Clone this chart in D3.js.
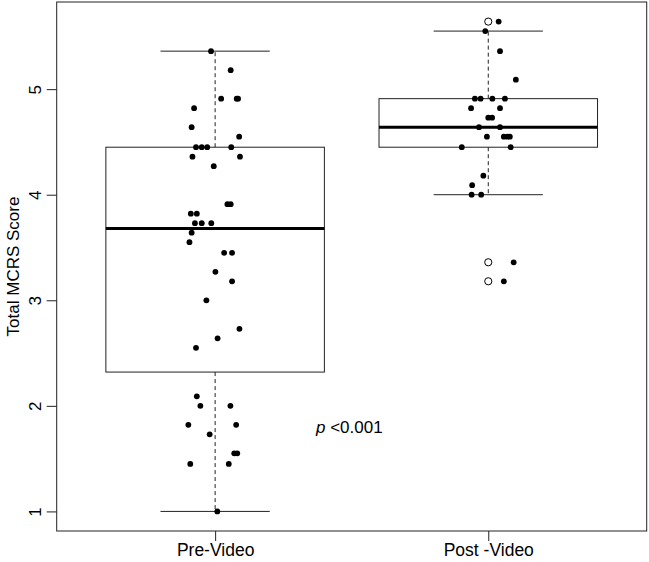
<!DOCTYPE html>
<html>
<head>
<meta charset="utf-8">
<script src="https://cdn.jsdelivr.net/npm/d3@7"></script>
<style>
    body { margin: 0; background: #fff; }
    svg text { font-family: "Liberation Sans", Arial, sans-serif; fill: #000; }
</style>
</head>
<body>
<script>
"use strict";

// groups on the x axis
var groups = ["Pre-Video", "Post -Video"];

// scores per subject, with the horizontal jitter (in group units)
var preScores = [5.36, 5.18, 4.91, 4.91, 4.91, 4.82, 4.64, 4.55, 4.45, 4.45, 4.45, 4.45,
    4.36, 4.36, 4.27, 3.91, 3.91, 3.82, 3.82, 3.73, 3.73, 3.73, 3.64, 3.55, 3.45, 3.45,
    3.27, 3.18, 3.00, 2.73, 2.64, 2.55, 2.09, 2.00, 2.00, 1.82, 1.82, 1.73, 1.55, 1.55,
    1.45, 1.45, 1.00];
var preJitter = [-0.015, 0.057, 0.022, 0.079, 0.084, -0.077, -0.086, 0.088, -0.070, -0.049, -0.029, 0.059,
    -0.083, 0.091, -0.005, 0.045, 0.057, -0.089, -0.067, -0.074, -0.049, -0.014, -0.086, -0.094, 0.033, 0.062,
    0.001, 0.062, -0.032, 0.089, 0.009, -0.070, -0.067, -0.054, 0.056, -0.098, 0.077, -0.020, 0.070, 0.081,
    -0.091, 0.050, 0.008];

var postScores = [5.64, 5.55, 5.36, 5.09, 4.91, 4.91, 4.91, 4.91, 4.82, 4.82, 4.73, 4.73,
    4.64, 4.64, 4.55, 4.55, 4.55, 4.55, 4.45, 4.45, 4.18, 4.09, 4.00, 4.00, 3.36, 3.18];
var postJitter = [0.038, -0.011, 0.043, 0.101, -0.049, -0.028, 0.015, 0.061, -0.063, 0.043, 0.000, 0.014,
    -0.034, 0.043, -0.005, 0.057, 0.070, 0.079, -0.097, 0.082, -0.018, -0.059, -0.061, -0.026, 0.093, 0.057];

// box statistics as drawn
var whiskerLow = [1.00, 4.00];
var lowerHinge = [2.32, 4.45];
var medians = [3.68, 4.64];
var upperHinge = [4.45, 4.91];
var whiskerHigh = [5.36, 5.55];
var outliers = [[], [5.64, 3.36, 3.18]];

var yTicks = [1, 2, 3, 4, 5];

function init() {
    var w = 649;
    var h = 562;
    var plot = {left: 56.7, right: 646.7, top: 2, bottom: 531};

    var allScores = preScores.concat(postScores);
    var ext = d3.extent(allScores);
    var pad = (ext[1] - ext[0]) * 0.04;

    var xScale = d3.scaleLinear()
        .domain([0.42, 2.58])
        .range([plot.left, plot.right]);

    var yScale = d3.scaleLinear()
        .domain([ext[0] - pad, ext[1] + pad])
        .range([plot.bottom, plot.top]);

    var svg = d3.select("body")
        .append("svg")
        .attr("width", w)
        .attr("height", h);

    var boxHalf = 0.4;
    var stapleHalf = 0.2;

    var boxes = groups.map(function (g, i) {
        return {
            pos: i + 1,
            lo: whiskerLow[i],
            q1: lowerHinge[i],
            med: medians[i],
            q3: upperHinge[i],
            hi: whiskerHigh[i],
            out: outliers[i]
        };
    });

    var bx = svg.selectAll("g.box")
        .data(boxes)
        .enter()
        .append("g")
        .attr("class", "box");

    // dashed whiskers
    bx.append("line")
        .attr("x1", function (d) { return xScale(d.pos); })
        .attr("x2", function (d) { return xScale(d.pos); })
        .attr("y1", function (d) { return yScale(d.q3); })
        .attr("y2", function (d) { return yScale(d.hi); })
        .attr("stroke", "#222")
        .attr("stroke-dasharray", "4,3");
    bx.append("line")
        .attr("x1", function (d) { return xScale(d.pos); })
        .attr("x2", function (d) { return xScale(d.pos); })
        .attr("y1", function (d) { return yScale(d.q1); })
        .attr("y2", function (d) { return yScale(d.lo); })
        .attr("stroke", "#222")
        .attr("stroke-dasharray", "4,3");

    // staples
    ["lo", "hi"].forEach(function (k) {
        bx.append("line")
            .attr("x1", function (d) { return xScale(d.pos - stapleHalf); })
            .attr("x2", function (d) { return xScale(d.pos + stapleHalf); })
            .attr("y1", function (d) { return yScale(d[k]); })
            .attr("y2", function (d) { return yScale(d[k]); })
            .attr("stroke", "#222");
    });

    // the box
    bx.append("rect")
        .attr("x", function (d) { return xScale(d.pos - boxHalf); })
        .attr("y", function (d) { return yScale(d.q3); })
        .attr("width", function (d) { return xScale(d.pos + boxHalf) - xScale(d.pos - boxHalf); })
        .attr("height", function (d) { return yScale(d.q1) - yScale(d.q3); })
        .attr("fill", "none")
        .attr("stroke", "#222");

    // median
    bx.append("line")
        .attr("x1", function (d) { return xScale(d.pos - boxHalf); })
        .attr("x2", function (d) { return xScale(d.pos + boxHalf); })
        .attr("y1", function (d) { return yScale(d.med); })
        .attr("y2", function (d) { return yScale(d.med); })
        .attr("stroke", "#000")
        .attr("stroke-width", 3);

    // outliers (open circles)
    bx.selectAll("circle.out")
        .data(function (d) {
            return d.out.map(function (v) { return {pos: d.pos, v: v}; });
        })
        .enter()
        .append("circle")
        .attr("class", "out")
        .attr("cx", function (d) { return xScale(d.pos); })
        .attr("cy", function (d) { return yScale(d.v); })
        .attr("r", 3.6)
        .attr("fill", "#fff")
        .attr("stroke", "#000")
        .attr("stroke-width", 1);

    // jittered points
    var pts = [];
    preScores.forEach(function (v, i) { pts.push({pos: 1 + preJitter[i], v: v}); });
    postScores.forEach(function (v, i) { pts.push({pos: 2 + postJitter[i], v: v}); });

    svg.selectAll("circle.pt")
        .data(pts)
        .enter()
        .append("circle")
        .attr("class", "pt")
        .attr("cx", function (d) { return xScale(d.pos); })
        .attr("cy", function (d) { return yScale(d.v); })
        .attr("r", 2.9)
        .attr("fill", "#000");

    // frame
    svg.append("rect")
        .attr("x", plot.left)
        .attr("y", plot.top)
        .attr("width", plot.right - plot.left)
        .attr("height", plot.bottom - plot.top)
        .attr("fill", "none")
        .attr("stroke", "#222");

    // y axis
    var yAxis = svg.append("g")
        .attr("transform", "translate(" + plot.left + ",0)")
        .call(d3.axisLeft(yScale).tickValues(yTicks).tickSize(10).tickFormat(d3.format("d")));
    yAxis.select(".domain").remove();
    yAxis.selectAll(".tick line").attr("stroke", "#222");
    yAxis.selectAll(".tick text")
        .attr("x", null)
        .attr("dy", null)
        .attr("text-anchor", "middle")
        .attr("transform", "translate(-16,0) rotate(-90)")
        .style("font-size", "17px");

    // x axis
    var xAxis = svg.append("g")
        .attr("transform", "translate(0," + plot.bottom + ")")
        .call(d3.axisBottom(xScale).tickValues([1, 2]).tickSize(10)
            .tickFormat(function (d) { return groups[d - 1]; }));
    xAxis.select(".domain").remove();
    xAxis.selectAll(".tick line").attr("stroke", "#222");
    xAxis.selectAll(".tick text")
        .attr("y", 25)
        .attr("dy", null)
        .style("font-size", "17.5px");

    // y title
    svg.append("text")
        .attr("transform", "translate(19," + ((plot.top + plot.bottom) / 2) + ") rotate(-90)")
        .attr("text-anchor", "middle")
        .style("font-size", "17px")
        .text("Total MCRS Score");

    // p-value note
    var note = svg.append("text")
        .attr("x", 316)
        .attr("y", 433)
        .style("font-size", "17px");
    note.append("tspan").style("font-style", "italic").text("p");
    note.append("tspan").text(" <0.001");
}

window.onload = init;
</script>
</body>
</html>
